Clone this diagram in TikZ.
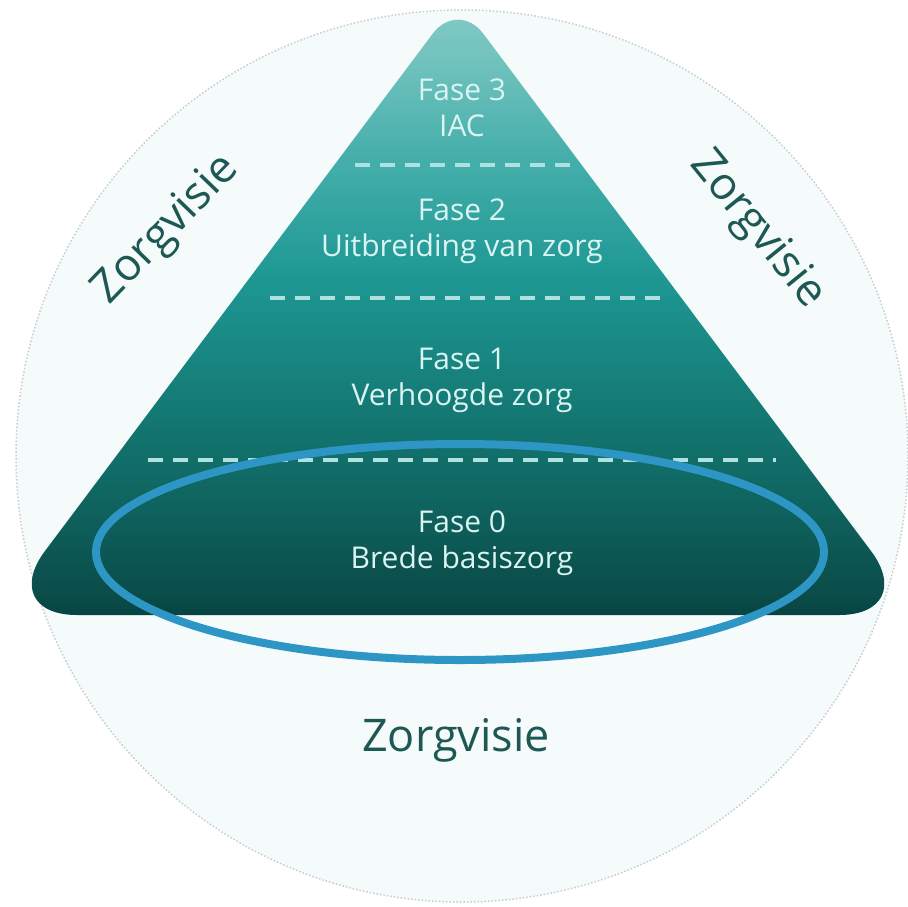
\documentclass[tikz,border=0pt]{standalone}
\usepackage{fontspec}
\setmainfont{Open Sans}
\usetikzlibrary{shapes.geometric}
\definecolor{circfill}{RGB}{245,250,250}
\definecolor{circline}{RGB}{200,205,205}
\definecolor{pA}{RGB}{6,68,66}
\definecolor{pB}{RGB}{10,76,73}
\definecolor{pC}{RGB}{15,100,95}
\definecolor{pD}{RGB}{20,120,115}
\definecolor{pE}{RGB}{30,152,148}
\definecolor{pF}{RGB}{72,176,172}
\definecolor{pG}{RGB}{115,195,190}
\definecolor{pH}{RGB}{132,202,198}
\pgfdeclareverticalshading{pyr}{100bp}{color(0bp)=(pA); color(25bp)=(pA); color(26.6bp)=(pB); color(34.3bp)=(pC); color(41.3bp)=(pD); color(52.6bp)=(pE); color(62.8bp)=(pF); color(70.5bp)=(pG); color(75bp)=(pH); color(100bp)=(pH)}
\definecolor{dashcol}{RGB}{175,225,224}
\definecolor{fasetext}{RGB}{218,244,242}
\definecolor{visiecol}{RGB}{30,88,84}
\definecolor{ellcol}{RGB}{46,150,196}
\tikzset{
  fase/.style={text=fasetext, font=\fontsize{30}{36}\selectfont, align=center, inner sep=0pt},
  visie/.style={text=visiecol, font=\fontsize{45}{50}\selectfont, inner sep=0pt},
  sep/.style={dashcol, line width=3.5pt, dash pattern=on 15pt off 10pt},
}
\begin{document}
\begin{tikzpicture}[x=1pt,y=-1pt]
\useasboundingbox (0,0) rectangle (908,906);
\fill[white] (0,0) rectangle (908,906);
% outer circle
\node[circle, minimum size=892pt, fill=circfill, draw=circline, line width=1.5pt, dotted, inner sep=0pt] (circ) at (462,456) {};
% pyramid
\shade[shading=pyr]
  (458,615) [rounded corners=80pt] -- (919,615) [rounded corners=42pt] -- (458,0) [rounded corners=80pt] -- (-3,615) [sharp corners] -- cycle;
% separators
\coordinate (d3l) at (355,165); \coordinate (d3r) at (572,165);
\coordinate (d2l) at (270,298); \coordinate (d2r) at (662,298);
\coordinate (d1l) at (148,460); \coordinate (d1r) at (776,460);
\draw[sep] (d3l) -- (d3r);
\draw[sep] (d2l) -- (d2r);
\draw[sep] (d1l) -- (d1r);
% phase labels
\node[fase] (f3) at (462,108) {Fase 3\\IAC};
\node[fase] (f2) at (462,231) {Fase 2\\Uitbreiding van zorg};
\node[fase] (f1) at (462,380) {Fase 1\\Verhoogde zorg};
\node[fase] (f0) at (462,543) {Fase 0\\Brede basiszorg};
% highlight ellipse
\node[ellipse, draw=ellcol, line width=8pt, minimum width=728pt, minimum height=216pt, inner sep=0pt] (ell) at (460,552) {};
% Zorgvisie labels
\node[visie] (zb) at (456,740) {Zorgvisie};
\node[visie, rotate=46] (zl) at (167,230) {Zorgvisie};
\node[visie, rotate=-51] (zr) at (757,230) {Zorgvisie};
\end{tikzpicture}
\end{document}
